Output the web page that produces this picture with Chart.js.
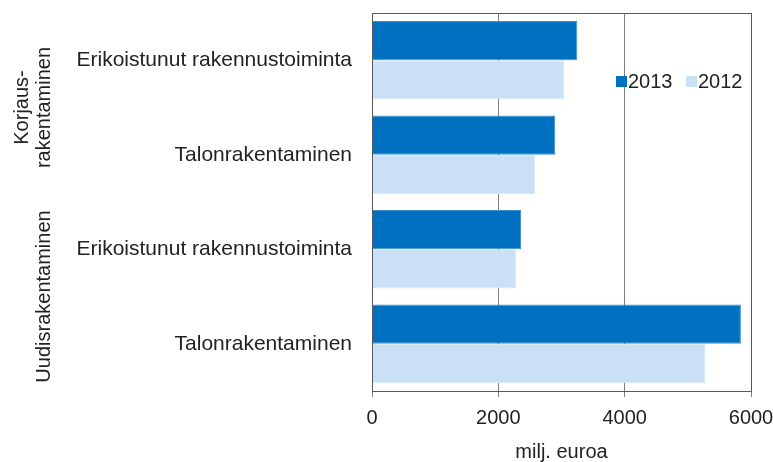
<!DOCTYPE html>
<html>
<head>
<meta charset="utf-8">
<script src="https://cdn.jsdelivr.net/npm/chart.js@4"></script>
<style>
  html, body { margin:0; padding:0; background:#fff; }
  #wrap { width:773px; height:462px; }
</style>
</head>
<body>
<div id="wrap"><canvas id="chart" width="773" height="462"></canvas></div>
<script>
// values (milj. euroa)
const categories = ['Erikoistunut rakennustoiminta', 'Talonrakentaminen', 'Erikoistunut rakennustoiminta', 'Talonrakentaminen'];
const groups = [['Korjaus-', 'rakentaminen'], ['Uudisrakentaminen']];
const values2013 = [3250, 2900, 2360, 5840];
const values2012 = [3040, 2580, 2280, 5280];
const xTicks = [0, 2000, 4000, 6000];

const FONT = 'Liberation Sans, Arial, sans-serif';
const DARK = '#0070C0', LIGHT = '#C9E0F6';

// border box + group labels + legend inside plot
const decor = {
  id: 'decor',
  afterDraw(chart) {
    const { ctx, chartArea: a } = chart;
    ctx.save();
    ctx.strokeStyle = '#595959';
    ctx.lineWidth = 1;
    ctx.strokeRect(a.left + 0.5, a.top + 0.5, a.right - a.left, a.bottom - a.top);

    ctx.fillStyle = '#222';
    ctx.font = '20px ' + FONT;
    ctx.textAlign = 'center';
    ctx.textBaseline = 'middle';
    const ys = chart.scales.y;
    const mid1 = (ys.getPixelForValue(0) + ys.getPixelForValue(1)) / 2;
    const mid2 = (ys.getPixelForValue(2) + ys.getPixelForValue(3)) / 2;
    [[groups[0], mid1, 22], [groups[1], mid2, 44]].forEach(([lines, y, x0]) => {
      ctx.save();
      ctx.translate(x0, y);
      ctx.rotate(-Math.PI / 2);
      lines.forEach((t, i) => ctx.fillText(t, 0, i * 22));
      ctx.restore();
    });

    // legend
    ctx.textAlign = 'left';
    let x = 616;
    chart.data.datasets.forEach(ds => {
      ctx.fillStyle = ds.backgroundColor;
      ctx.fillRect(x, 76, 11, 11);
      ctx.fillStyle = '#222';
      ctx.fillText(ds.label, x + 12, 82);
      x += 70;
    });
    ctx.restore();
  }
};

new Chart(document.getElementById('chart').getContext('2d'), {
  type: 'bar',
  data: {
    labels: categories,
    datasets: [
      { label: '2013', data: values2013, backgroundColor: DARK, borderColor: '#3d8fd0', borderWidth: 1 },
      { label: '2012', data: values2012, backgroundColor: LIGHT, borderColor: '#dcebf9', borderWidth: 1 }
    ]
  },
  options: {
    indexAxis: 'y',
    responsive: false,
    animation: false,
    categoryPercentage: 0.83,
    barPercentage: 1,
    layout: { padding: { top: 13, right: 22, left: 0, bottom: 0 } },
    plugins: { legend: { display: false }, tooltip: { enabled: false } },
    scales: {
      x: {
        min: 0, max: 6000,
        afterBuildTicks: s => { s.ticks = xTicks.map(v => ({ value: v })); },
        grid: { color: '#808080', tickLength: 6, drawOnChartArea: true },
        border: { display: true, color: '#595959' },
        ticks: { color: '#222', font: { family: FONT, size: 20 }, padding: 9, maxRotation: 0,
                 callback: v => String(v) },
        title: { display: true, text: 'milj. euroa', color: '#222',
                 font: { family: FONT, size: 20, lineHeight: 1 }, padding: { top: 0, bottom: 0 } },
        afterFit: s => { s.height = 71; s.paddingLeft = 0; s.paddingRight = 0; }
      },
      y: {
        grid: { display: false, drawTicks: false },
        border: { display: true, color: '#595959' },
        ticks: { color: '#222', font: { family: FONT, size: 21 }, padding: 20 },
        afterFit: s => { s.width = 372; s.paddingTop = 0; s.paddingBottom = 0; }
      }
    }
  },
  plugins: [decor]
});
</script>
</body>
</html>
